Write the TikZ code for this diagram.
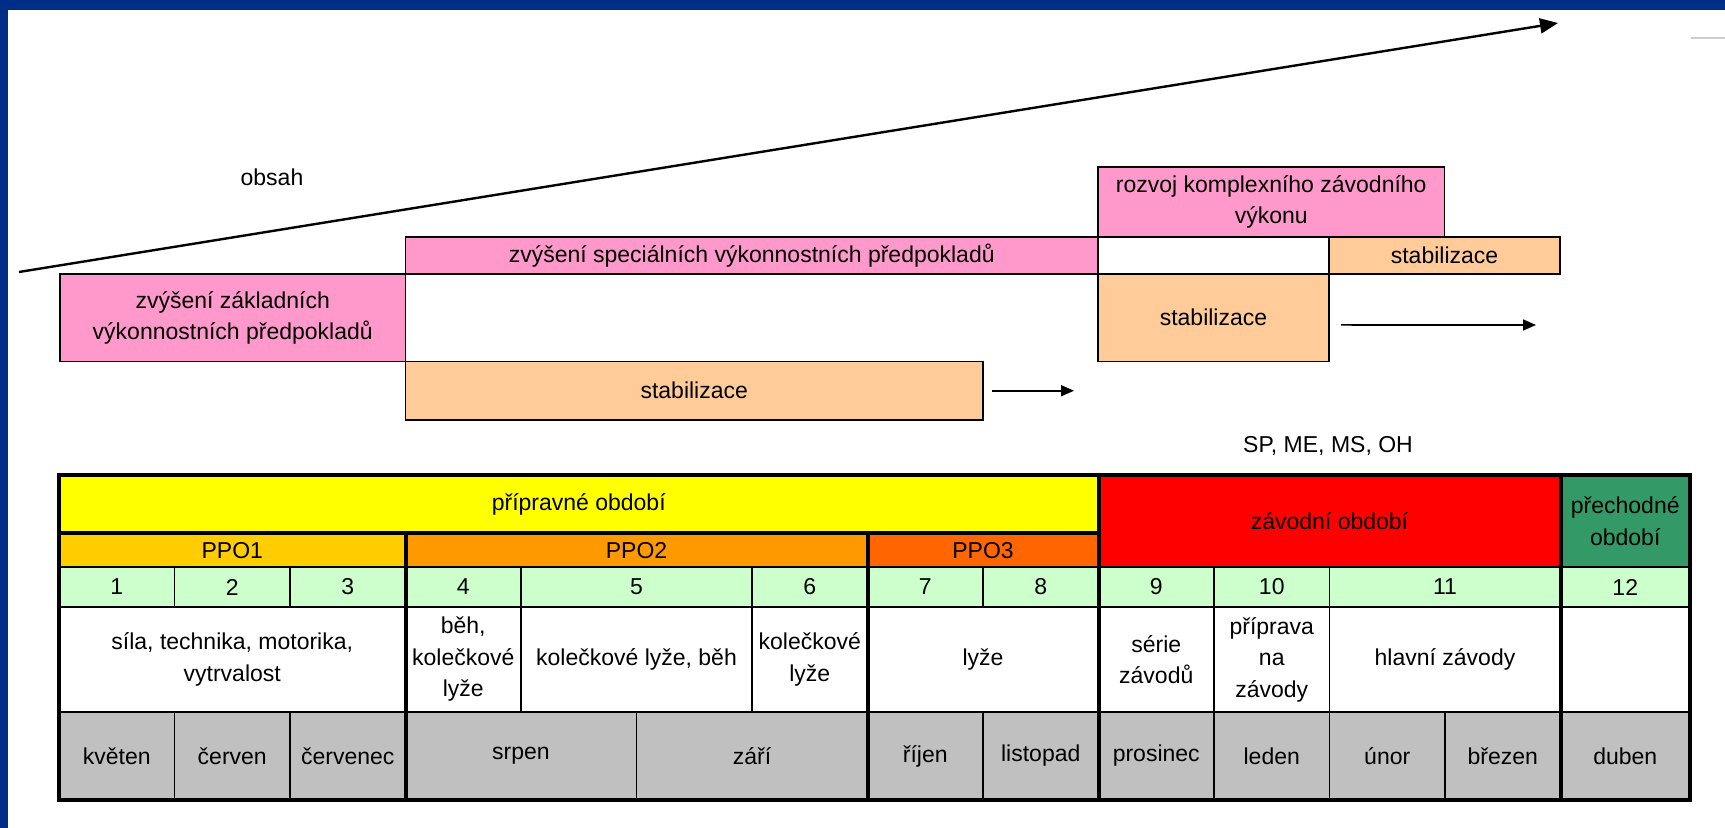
\documentclass[tikz,border=0pt]{standalone}
\usepackage{fontspec}
\setmainfont{Liberation Sans}
\usepackage{tikz}
\usetikzlibrary{arrows.meta, positioning}

\definecolor{rosa}{HTML}{FF99CC}
\definecolor{haut}{HTML}{FFCC99}
\definecolor{gelb}{HTML}{FFFF00}
\definecolor{ppoeins}{HTML}{FFCC00}
\definecolor{ppozwei}{HTML}{FF9900}
\definecolor{ppodrei}{HTML}{FF6600}
\definecolor{rot}{HTML}{FF0000}
\definecolor{gruen}{HTML}{339966}
\definecolor{hellgruen}{HTML}{CCFFCC}
\definecolor{grau}{HTML}{C0C0C0}
\definecolor{rahmen}{HTML}{002D87}

\newcommand{\schrift}{\fontsize{11.5pt}{15.75pt}\selectfont}
% Feld: [Stil] Name, x1, y1, x2, y2, Farbe, Text
\newcommand{\feld}[8][feld]{%
  \node[#1, fill=#7, minimum width={(#5-#3)*0.5pt}, minimum height={(#6-#4)*0.5pt}]
    (#2) at ({(#3+#5)/2},{(#4+#6)/2}) {#8};}

\begin{document}
\begin{tikzpicture}[x=0.5pt, y=-0.5pt,
    feld/.style={draw, line width=0.85pt, inner sep=0pt, outer sep=0pt, align=center, font=\schrift},
    block/.style={feld, line width=0.75pt},
    dick/.style={line width=2pt},
    pfeil/.style={-{Triangle[length=9pt,width=7.5pt]}, line width=1.2pt},
    kpfeil/.style={-{Triangle[length=6.5pt,width=5.5pt]}, line width=0.8pt}]
    \useasboundingbox (0,0) rectangle (1725,828);
    % Rahmen
    \fill[rahmen] (0,0) rectangle (1725,10);
    \fill[rahmen] (0,0) rectangle (8,828);
    \draw[grau!80, line width=1pt] (1691,38) -- (1725,38);

    % Inhalt
    \coordinate (obsahA) at (19,272);
    \coordinate (obsahB) at (1558,23);
    \draw[pfeil] (obsahA) -- (obsahB);
    \node[font=\schrift] (obsah) at (272,177) {obsah};

    % Bloecke
    \feld[block]{zakl}{60}{274}{405.5}{361.5}{rosa}{zvýšení základních\\výkonnostních předpokladů}
    \feld[block]{spec}{405.5}{237}{1098}{274}{rosa}{zvýšení speciálních výkonnostních předpokladů}
    \feld[block]{stabA}{405.5}{361.5}{983}{420}{haut}{stabilizace}
    \feld[block]{rozvoj}{1098}{167}{1444.5}{237}{rosa}{rozvoj komplexního závodního\\výkonu}
    \feld[block]{leer}{1098}{237}{1329}{274}{white}{}
    \feld[block]{stabB}{1329}{237}{1560}{274}{haut}{stabilizace}
    \feld[block]{stabC}{1098}{274}{1329}{361.5}{haut}{stabilizace}

    % Pfeile
    \coordinate (pfA) at (1074,390.75);
    \coordinate (pfB) at (1536,325);
    \draw[kpfeil] ([xshift=4.5pt]stabA.east) -- (pfA);
    \draw[kpfeil] ([xshift=6pt,yshift=-3.6pt]stabC.east) -- (pfB);
    \node[font=\schrift] (rennen) at (1328,446) {SP, ME, MS, OH};

    % Tabelle: Perioden
    \feld{pripravne}{59}{475}{1098.5}{533.5}{gelb}{přípravné období}
    \feld{zavodni}{1098.5}{475}{1560.5}{567}{rot}{závodní období}
    \feld{prechodne}{1560.5}{475}{1690}{567}{gruen}{přechodné\\období}
    \feld{ppoA}{59}{533.5}{405.5}{567}{ppoeins}{PPO1}
    \feld{ppoB}{405.5}{533.5}{867.5}{567}{ppozwei}{PPO2}
    \feld{ppoC}{867.5}{533.5}{1098.5}{567}{ppodrei}{PPO3}

    % Tabelle: Nummern
    \feld{nA}{59}{567}{174.5}{607}{hellgruen}{1}
    \feld{nB}{174.5}{567}{290}{607}{hellgruen}{2}
    \feld{nC}{290}{567}{405.5}{607}{hellgruen}{3}
    \feld{nD}{405.5}{567}{521}{607}{hellgruen}{4}
    \feld{nE}{521}{567}{752}{607}{hellgruen}{5}
    \feld{nF}{752}{567}{867.5}{607}{hellgruen}{6}
    \feld{nG}{867.5}{567}{983}{607}{hellgruen}{7}
    \feld{nH}{983}{567}{1098.5}{607}{hellgruen}{8}
    \feld{nI}{1098.5}{567}{1214}{607}{hellgruen}{9}
    \feld{nJ}{1214}{567}{1329.5}{607}{hellgruen}{10}
    \feld{nK}{1329.5}{567}{1560.5}{607}{hellgruen}{11}
    \feld{nL}{1560.5}{567}{1690}{607}{hellgruen}{12}

    % Tabelle: Inhalte
    \feld{tA}{59}{607}{405.5}{712}{white}{síla, technika, motorika,\\vytrvalost}
    \feld{tB}{405.5}{607}{521}{712}{white}{běh,\\kolečkové\\lyže}
    \feld{tC}{521}{607}{752}{712}{white}{kolečkové lyže, běh}
    \feld{tD}{752}{607}{867.5}{712}{white}{kolečkové\\lyže}
    \feld{tE}{867.5}{607}{1098.5}{712}{white}{lyže}
    \feld{tF}{1098.5}{607}{1214}{712}{white}{série\\závodů}
    \feld{tG}{1214}{607}{1329.5}{712}{white}{příprava\\na\\závody}
    \feld{tH}{1329.5}{607}{1560.5}{712}{white}{hlavní závody}
    \feld{tI}{1560.5}{607}{1690}{712}{white}{}

    % Tabelle: Monate
    \feld{mA}{59}{712}{174.5}{800}{grau}{květen}
    \feld{mB}{174.5}{712}{290}{800}{grau}{červen}
    \feld{mC}{290}{712}{405.5}{800}{grau}{červenec}
    \feld{mD}{405.5}{712}{636.5}{800}{grau}{srpen}
    \feld{mE}{636.5}{712}{867.5}{800}{grau}{září}
    \feld{mF}{867.5}{712}{983}{800}{grau}{říjen}
    \feld{mG}{983}{712}{1098.5}{800}{grau}{listopad}
    \feld{mH}{1098.5}{712}{1214}{800}{grau}{prosinec}
    \feld{mI}{1214}{712}{1329.5}{800}{grau}{leden}
    \feld{mJ}{1329.5}{712}{1445}{800}{grau}{únor}
    \feld{mK}{1445}{712}{1560.5}{800}{grau}{březen}
    \feld{mL}{1560.5}{712}{1690}{800}{grau}{duben}

    % dicke Linien
    \draw[dick] (59,475) rectangle (1690,800);
    \draw[dick] (59,533.5) -- (1098.5,533.5);
    \draw[dick] (405.5,533.5) -- (405.5,800);
    \draw[dick] (867.5,533.5) -- (867.5,800);
    \draw[dick] (1098.5,475) -- (1098.5,800);
    \draw[dick] (1560.5,475) -- (1560.5,800);
\end{tikzpicture}
\end{document}
